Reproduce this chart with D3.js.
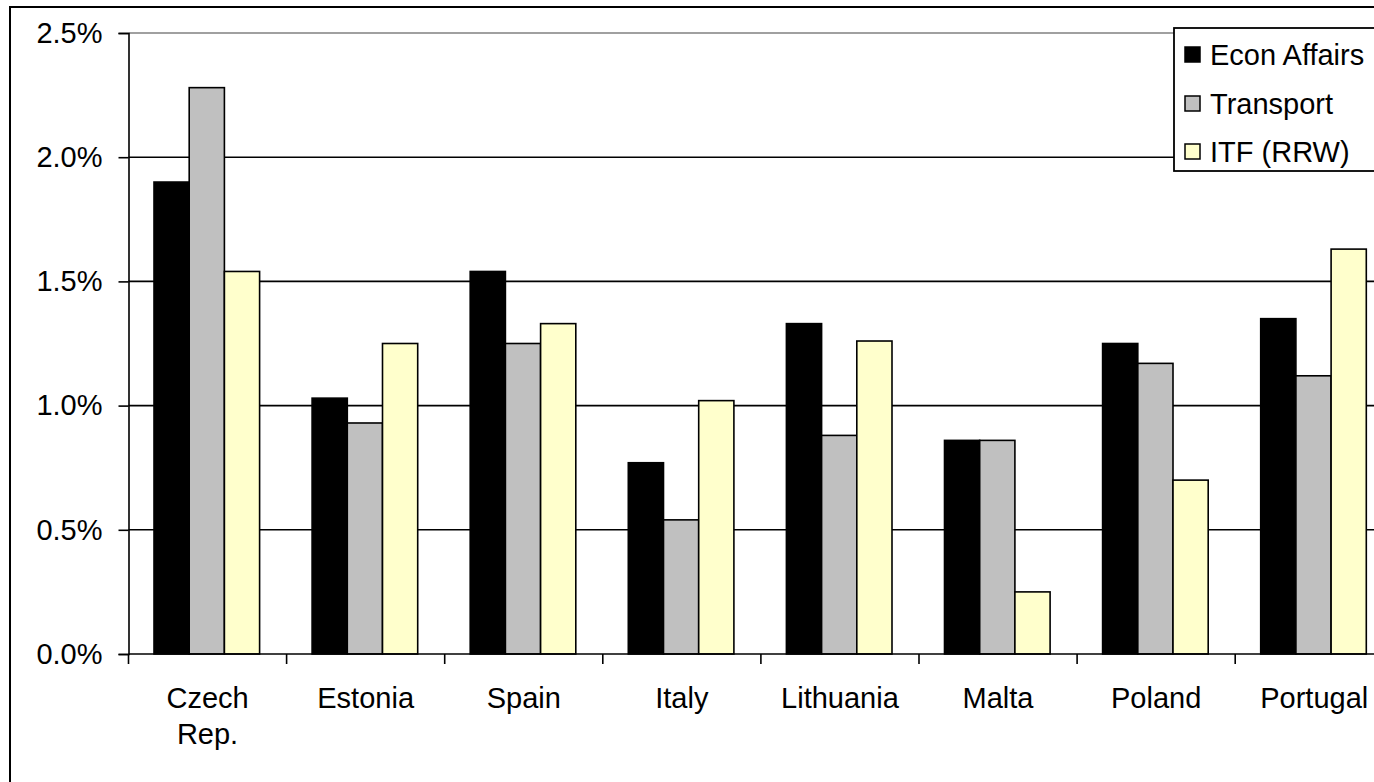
<!DOCTYPE html>
<html>
<head>
<meta charset="utf-8">
<script src="https://cdn.jsdelivr.net/npm/d3@7"></script>
<style>
  html, body { margin: 0; padding: 0; background: #fff; overflow: hidden; }
  svg { display: block; font-family: "Liberation Sans", Arial, sans-serif; }
</style>
</head>
<body>
<svg id="chart" width="1374" height="782"></svg>
<script>
// Spending as a share of GDP, by country
const categories = ["Czech Rep.", "Estonia", "Spain", "Italy", "Lithuania", "Malta", "Poland", "Portugal"];
const seriesNames = ["Econ Affairs", "Transport", "ITF (RRW)"];
const econAffairs = [1.90, 1.03, 1.54, 0.77, 1.33, 0.86, 1.25, 1.35];
const transport   = [2.28, 0.93, 1.25, 0.54, 0.88, 0.86, 1.17, 1.12];
const itfRrw      = [1.54, 1.25, 1.33, 1.02, 1.26, 0.25, 0.70, 1.63];
const yTicks = [0, 0.5, 1.0, 1.5, 2.0, 2.5];
const colors = ["#000000", "#c0c0c0", "#ffffcc"];

const seriesValues = [econAffairs, transport, itfRrw];

const svg = d3.select("#chart");
const fontSize = 29;

// Outer chart frame
svg.append("rect")
  .attr("x", 10).attr("y", 7)
  .attr("width", 1420).attr("height", 820)
  .attr("fill", "#fff").attr("stroke", "#000").attr("stroke-width", 2);

const plotLeft = 128.5, plotTop = 33, plotBottom = 654;
const catWidth = 158.1;
const plotRight = plotLeft + catWidth * categories.length;

const y = d3.scaleLinear().domain([0, 2.5]).range([plotBottom, plotTop]);
const x0 = d3.scaleBand().domain(categories).range([plotLeft, plotRight]).padding(0);
const x1 = d3.scaleBand().domain(seriesNames).range([25.5, 25.5 + 105.6]).padding(0);

// Gridlines
svg.append("g").selectAll("line")
  .data(yTicks.filter(t => t > 0))
  .join("line")
  .attr("x1", plotLeft).attr("x2", plotRight)
  .attr("y1", d => y(d)).attr("y2", d => y(d))
  .attr("stroke", d => d === 2.5 ? "#808080" : "#000")
  .attr("stroke-width", 1.6);

// Bars
const groups = svg.append("g").selectAll("g")
  .data(categories)
  .join("g")
  .attr("transform", d => `translate(${x0(d)},0)`);

groups.selectAll("rect")
  .data((c, i) => seriesNames.map((s, k) => ({ s, k, v: seriesValues[k][i] })))
  .join("rect")
  .attr("x", d => x1(d.s))
  .attr("width", x1.bandwidth())
  .attr("y", d => y(d.v))
  .attr("height", d => y(0) - y(d.v))
  .attr("fill", d => colors[d.k])
  .attr("stroke", "#000")
  .attr("stroke-width", 1.6);

// Y axis
const yAxis = d3.axisLeft(y)
  .tickValues(yTicks)
  .tickFormat(d => d3.format(".1f")(d) + "%")
  .tickSize(10)
  .tickPadding(16);
const gy = svg.append("g").attr("transform", `translate(${plotLeft},0)`).call(yAxis);
gy.select(".domain").attr("stroke", "#000").attr("stroke-width", 1.6);
gy.selectAll(".tick line").attr("stroke", "#000").attr("stroke-width", 1.6);
gy.selectAll(".tick text")
  .attr("font-size", fontSize)
  .attr("font-family", "Liberation Sans, Arial, sans-serif")
  .attr("fill", "#000");

// X axis
const xTickPositions = d3.range(categories.length + 1).map(i => plotLeft + i * catWidth);
svg.append("line")
  .attr("x1", plotLeft).attr("x2", plotRight)
  .attr("y1", plotBottom).attr("y2", plotBottom)
  .attr("stroke", "#000").attr("stroke-width", 1.6);
svg.append("g").selectAll("line")
  .data(xTickPositions)
  .join("line")
  .attr("x1", d => d).attr("x2", d => d)
  .attr("y1", plotBottom).attr("y2", plotBottom + 10)
  .attr("stroke", "#000").attr("stroke-width", 1.6);

const xLabels = svg.append("g").selectAll("text")
  .data(categories)
  .join("text")
  .attr("x", d => x0(d) + x0.bandwidth() / 2)
  .attr("y", 708)
  .attr("text-anchor", "middle")
  .attr("font-size", fontSize)
  .attr("fill", "#000");
xLabels.each(function (d) {
  const parts = d === "Czech Rep." ? ["Czech", "Rep."] : [d];
  const t = d3.select(this);
  parts.forEach((p, i) => {
    t.append("tspan")
      .attr("x", x0(d) + x0.bandwidth() / 2)
      .attr("dy", i === 0 ? 0 : 36)
      .text(p);
  });
});

// Legend
const legend = svg.append("g");
legend.append("rect")
  .attr("x", 1174).attr("y", 28)
  .attr("width", 260).attr("height", 143)
  .attr("fill", "#fff").attr("stroke", "#000").attr("stroke-width", 1.8);
const rowY = [55, 104, 152];
seriesNames.forEach((s, k) => {
  legend.append("rect")
    .attr("x", 1185).attr("y", rowY[k] - 8)
    .attr("width", 15).attr("height", 15)
    .attr("fill", colors[k]).attr("stroke", "#000").attr("stroke-width", 1.5);
  legend.append("text")
    .attr("x", 1210).attr("y", rowY[k] + 10)
    .attr("font-size", fontSize)
    .attr("fill", "#000")
    .text(s);
});
</script>
</body>
</html>
